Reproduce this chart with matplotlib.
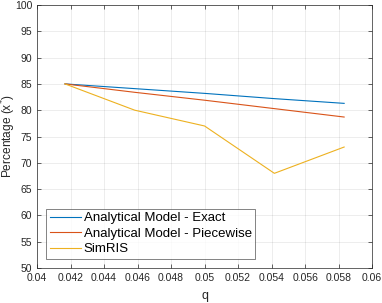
import matplotlib.pyplot as plt

plt.rcParams['font.family'] = ['Liberation Sans', 'DejaVu Sans']

# data
q = [0.041667, 0.045833, 0.05, 0.054167, 0.058333]
exact = [85.0, 84.1, 83.2, 82.2, 81.3]
piecewise = [85.0, 83.4, 81.9, 80.3, 78.7]
simris = [85.0, 80.0, 77.0, 68.0, 73.0]

fig = plt.figure(figsize=(3.82, 3.03), dpi=100)
ax = fig.add_axes([0.097, 0.1155, 0.877, 0.868])

ax.plot(q, exact, color='#0072BD', lw=0.8, label='Analytical Model - Exact')
ax.plot(q, piecewise, color='#D95319', lw=0.8, label='Analytical Model - Piecewise')
ax.plot(q, simris, color='#EDB120', lw=0.8, label='SimRIS')

ax.set_xlim(0.04, 0.06)
ax.set_ylim(50, 100)
xt = [0.04 + 0.002 * i for i in range(11)]
ax.set_xticks(xt)
ax.set_xticklabels(['%g' % round(v, 3) for v in xt])
ax.set_yticks(range(50, 101, 5))
ax.tick_params(direction='in', labelsize=7.5, colors='#262626', length=3,
               top=True, right=True, width=0.5)
ax.grid(True, color='#000000', alpha=0.1, lw=0.5)
for s in ax.spines.values():
    s.set_color('#262626')
    s.set_linewidth(0.5)

ax.set_xlabel('q', fontsize=9, color='#262626', labelpad=5)
ax.set_ylabel('Percentage (x$^{*}$)', fontsize=8.6, color='#262626')
ax.yaxis.set_label_coords(-0.056, 0.5)

leg = ax.legend(loc='lower left', fontsize=9.5, frameon=True, fancybox=False,
                edgecolor='#262626', handlelength=2.4, borderpad=0.25,
                labelspacing=0.25, handletextpad=0.2, borderaxespad=0.7)
leg.get_frame().set_linewidth(0.5)

fig.savefig('out.png', dpi=100)
